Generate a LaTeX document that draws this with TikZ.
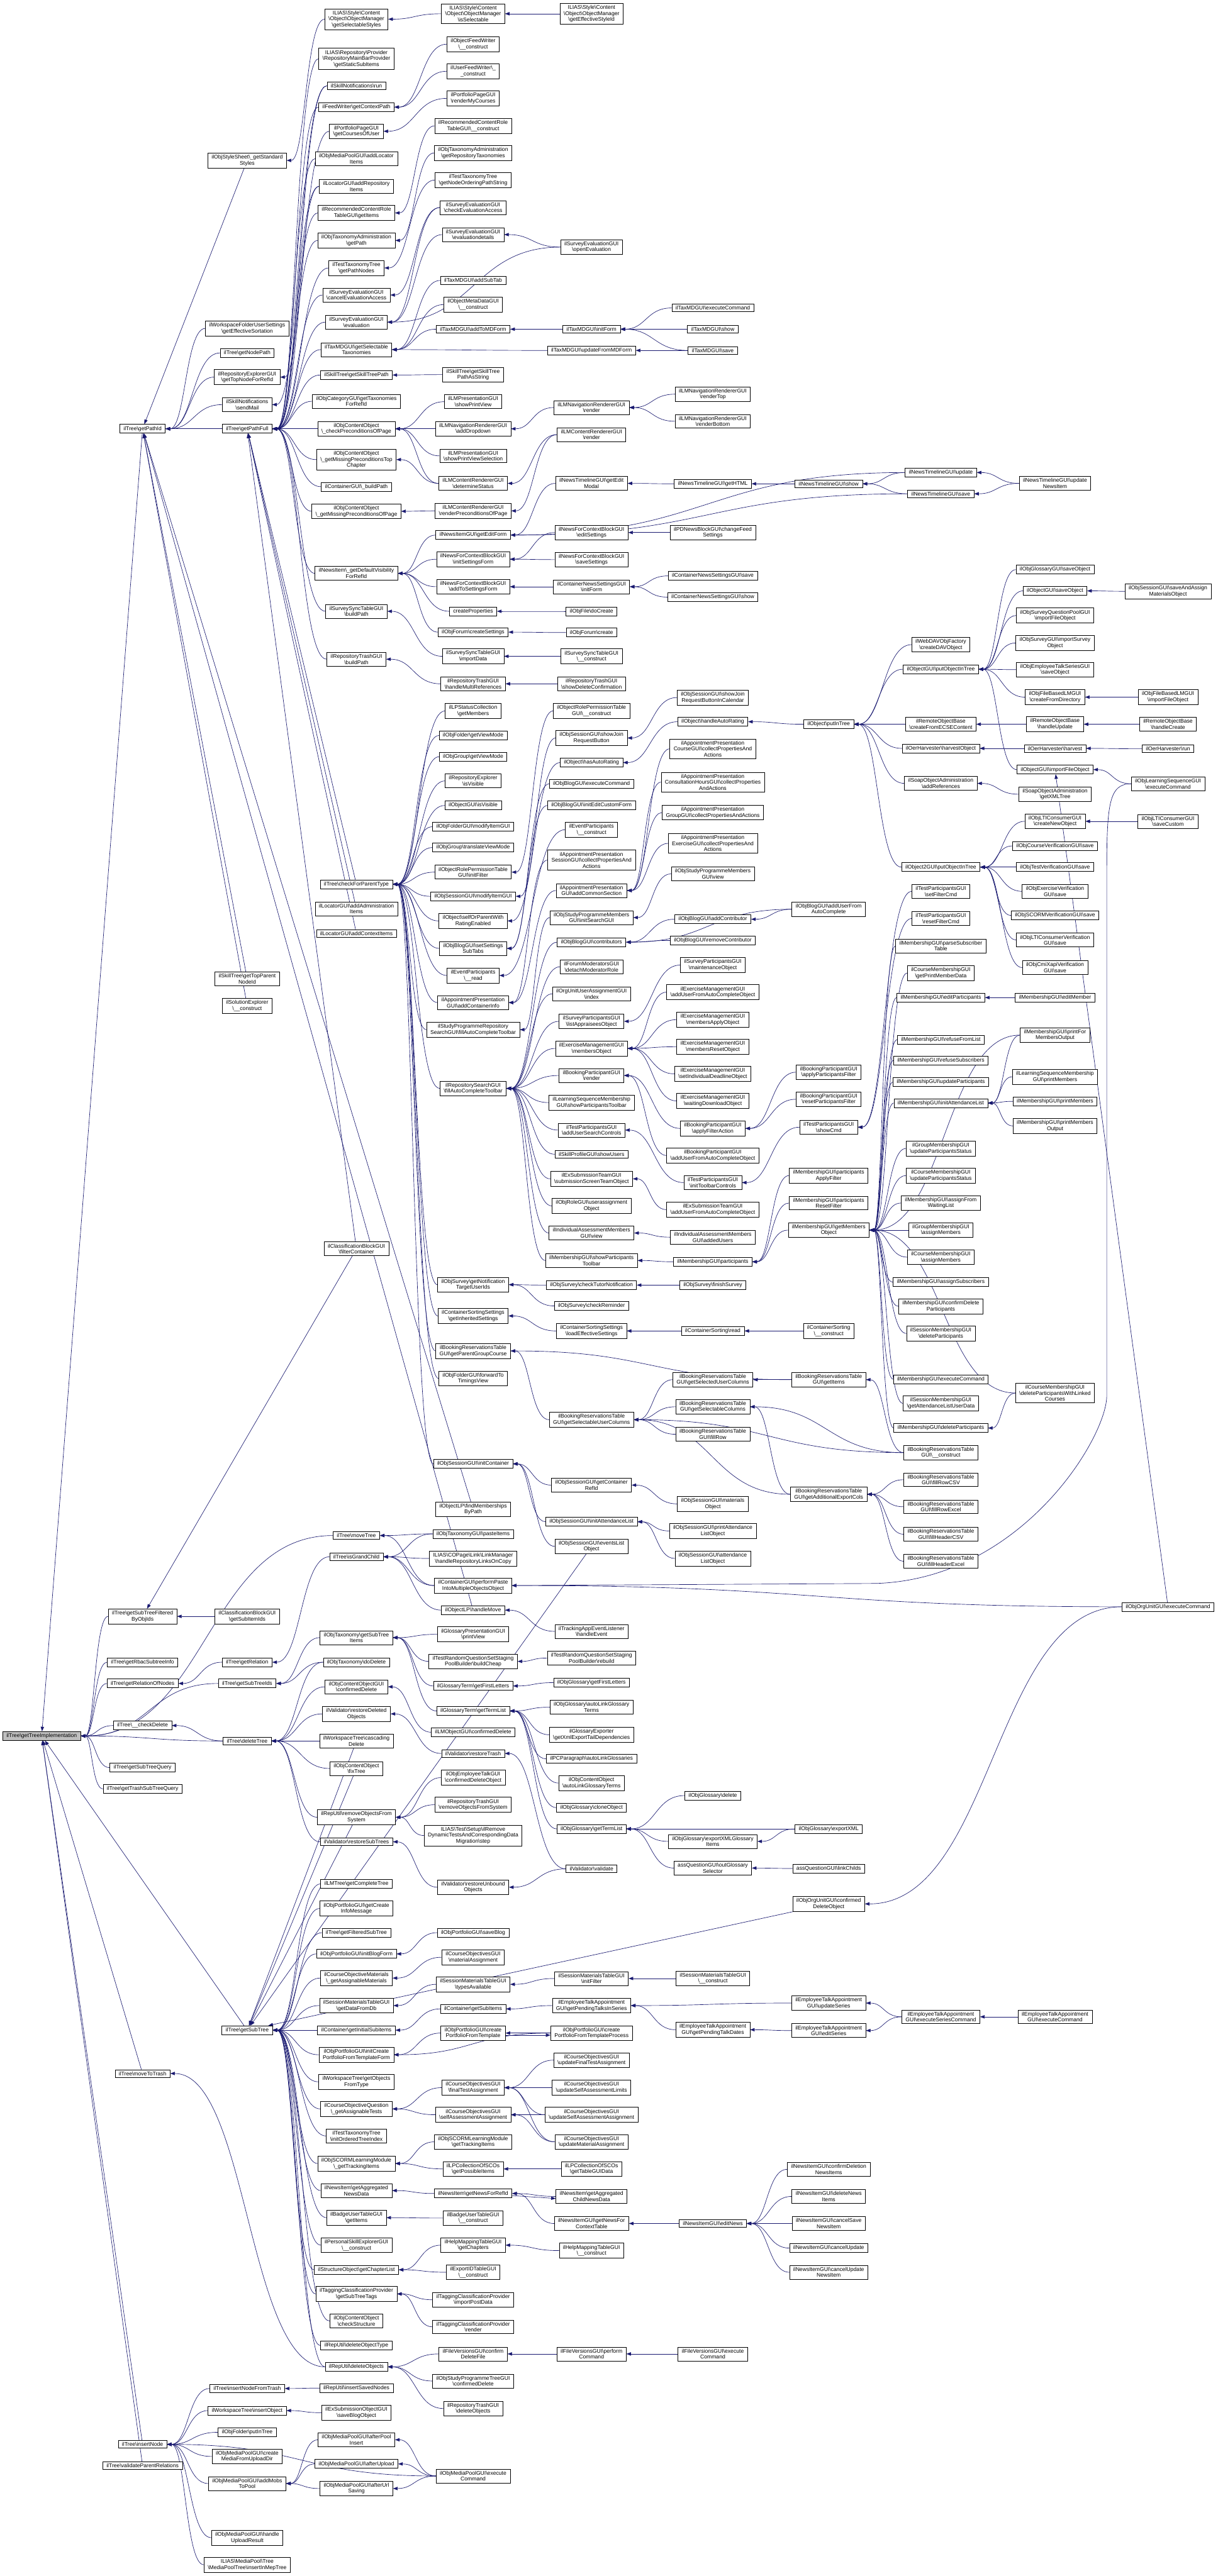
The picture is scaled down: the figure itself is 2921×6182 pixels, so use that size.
\documentclass[tikz,border=0pt]{standalone}
\usepackage{fontspec}
\setmainfont{Liberation Sans}
\usetikzlibrary{arrows.meta,backgrounds,calc}
\definecolor{edgeblue}{RGB}{25,25,112}
\definecolor{rootgray}{RGB}{191,191,191}
\newcommand{\bksl}{\textbackslash}

\begin{document}
\begin{tikzpicture}[x=1pt,y=-1pt,
    fn/.style={draw=black,line width=1pt,fill=white,align=center,inner xsep=9pt,inner ysep=4.5pt,font=\fontsize{13}{14.5}\selectfont},
    call/.style={draw=edgeblue,line width=1pt,-{Triangle[length=11pt,width=8pt]}}]
\useasboundingbox (0,0) rectangle (2921,6182);

% the function whose callers are shown
\node[fn,fill=rootgray] (root) at (100,4166) {ilTree\bksl getTreeImplementation};

% column 1
\foreach \n/\y/\t in {
  gpid/1029/{ilTree\bksl getPathId},
  gstfo/3879/{ilTree\bksl getSubTreeFiltered\\ByObjIds},
  grbac/3989/{ilTree\bksl getRbacSubtreeInfo},
  grelon/4040/{ilTree\bksl getRelationOfNodes},
  chkdel/4141/{ilTree\bksl\_\_checkDelete},
  gstq/4242/{ilTree\bksl getSubTreeQuery},
  gtstq/4293/{ilTree\bksl getTrashSubTreeQuery},
  mvtrash/4976/{ilTree\bksl moveToTrash},
  insnode/5866/{ilTree\bksl insertNode},
  valpar/5917/{ilTree\bksl validateParentRelations}}
  \node[fn] (\n) at (342,\y) {\t};

% column 2
\foreach \n/\y/\t in {
  stdstyles/385/{ilObjStyleSheet\bksl\_getStandard\\Styles},
  wfeff/788/{ilWorkspaceFolderUserSettings\\\bksl getEffectiveSortation},
  gnodepath/847/{ilTree\bksl getNodePath},
  reptop/905/{ilRepositoryExplorerGUI\\\bksl getTopNodeForRefId},
  sendmail/971/{ilSkillNotifications\\\bksl sendMail},
  gpfull/1029/{ilTree\bksl getPathFull},
  toppar/2349/{ilSkillTree\bksl getTopParent\\NodeId},
  solexp/2414/{ilSolutionExplorer\\\bksl\_\_construct},
  cbsub/3879/{ilClassificationBlockGUI\\\bksl getSubItemIds},
  grel/3989/{ilTree\bksl getRelation},
  gstids/4040/{ilTree\bksl getSubTreeIds},
  deltree/4178/{ilTree\bksl deleteTree},
  gsubtree/4872/{ilTree\bksl getSubTree},
  insfromtrash/5732/{ilTree\bksl insertNodeFromTrash},
  wtinsobj/5785/{ilWorkspaceTree\bksl insertObject},
  folderput/5837/{ilObjFolder\bksl putInTree},
  mpcreate/5895/{ilObjMediaPoolGUI\bksl create\\MediaFromUploadDir},
  mpaddmobs/5960/{ilObjMediaPoolGUI\bksl addMobs\\ToPool},
  mphandle/6090/{ilObjMediaPoolGUI\bksl handle\\UploadResult},
  mepins/6155/{ILIAS\bksl MediaPool\bksl Tree\\\bksl MediaPoolTree\bksl insertInMepTree}}
  \node[fn] (\n) at (593,\y) {\t};

% column 3
\foreach \n/\y/\t in {
  selstyles/46/{ILIAS\bksl Style\bksl Content\\\bksl Object\bksl ObjectManager\\\bksl getSelectableStyles},
  mainbar/141/{ILIAS\bksl Repository\bksl Provider\\\bksl RepositoryMainBarProvider\\\bksl getStaticSubItems},
  sknrun/206/{ilSkillNotifications\bksl run},
  feedctx/257/{ilFeedWriter\bksl getContextPath},
  ppcourses/315/{ilPortfolioPageGUI\\\bksl getCoursesOfUser},
  mploc/381/{ilObjMediaPoolGUI\bksl addLocator\\Items},
  locrep/447/{ilLocatorGUI\bksl addRepository\\Items},
  rcitems/511/{ilRecommendedContentRole\\TableGUI\bksl getItems},
  taxpath/577/{ilObjTaxonomyAdministration\\\bksl getPath},
  ttpathnodes/643/{ilTestTaxonomyTree\\\bksl getPathNodes},
  secancel/708/{ilSurveyEvaluationGUI\\\bksl cancelEvaluationAccess},
  seeval/773/{ilSurveyEvaluationGUI\\\bksl evaluation},
  mdseltax/839/{ilTaxMDGUI\bksl getSelectable\\Taxonomies},
  sktpath/900/{ilSkillTree\bksl getSkillTreePath},
  cattax/963/{ilObjCategoryGUI\bksl getTaxonomies\\ForRefId},
  cochkpre/1029/{ilObjContentObject\\\bksl\_checkPreconditionsOfPage},
  comisstop/1103/{ilObjContentObject\\\bksl\_getMissingPreconditionsTop\\Chapter},
  contbuild/1168/{ilContainerGUI\bksl\_buildPath},
  comisspage/1227/{ilObjContentObject\\\bksl\_getMissingPreconditionsOfPage},
  newsvis/1376/{ilNewsItem\bksl\_getDefaultVisibility\\ForRefId},
  ssbuild/1467/{ilSurveySyncTableGUI\\\bksl buildPath},
  rtbuild/1582/{ilRepositoryTrashGUI\\\bksl buildPath},
  cfpt/2122/{ilTree\bksl checkForParentType},
  locadmin/2181/{ilLocatorGUI\bksl addAdministration\\Items},
  locctx/2240/{ilLocatorGUI\bksl addContextItems},
  cbfilter/2997/{ilClassificationBlockGUI\\\bksl filterContainer},
  mvtree/3685/{ilTree\bksl moveTree},
  isgrand/3736/{ilTree\bksl isGrandChild},
  taxsub/3930/{ilObjTaxonomy\bksl getSubTree\\Items},
  taxdel/3989/{ilObjTaxonomy\bksl doDelete},
  cogconf/4048/{ilObjContentObjectGUI\\\bksl confirmedDelete},
  valrdel/4113/{ilValidator\bksl restoreDeleted\\Objects},
  wtcasc/4178/{ilWorkspaceTree\bksl cascading\\Delete},
  cofix/4244/{ilObjContentObject\\\bksl fixTree},
  rurem/4361/{ilRepUtil\bksl removeObjectsFrom\\System},
  valrsub/4420/{ilValidator\bksl restoreSubTrees},
  lmcomplete/4521/{ilLMTree\bksl getCompleteTree},
  pfinfo/4580/{ilObjPortfolioGUI\bksl getCreate\\InfoMessage},
  gfilt/4638/{ilTree\bksl getFilteredSubTree},
  pfblog/4689/{ilObjPortfolioGUI\bksl initBlogForm},
  comat/4747/{ilCourseObjectiveMaterials\\\bksl\_getAssignableMaterials},
  smdb/4813/{ilSessionMaterialsTableGUI\\\bksl getDataFromDb},
  contsub/4872/{ilContainer\bksl getInitialSubitems},
  pfcreateform/4931/{ilObjPortfolioGUI\bksl initCreate\\PortfolioFromTemplateForm},
  wtobjtype/4996/{ilWorkspaceTree\bksl getObjects\\FromType},
  coqtests/5061/{ilCourseObjectiveQuestion\\\bksl\_getAssignableTests},
  ttorder/5126/{ilTestTaxonomyTree\\\bksl initOrderedTreeIndex},
  scormtrack/5192/{ilObjSCORMLearningModule\\\bksl\_getTrackingItems},
  newsagg/5257/{ilNewsItem\bksl getAggregated\\NewsData},
  badgeitems/5322/{ilBadgeUserTableGUI\\\bksl getItems},
  psexp/5388/{ilPersonalSkillExplorerGUI\\\bksl\_\_construct},
  chaplist/5447/{ilStructureObject\bksl getChapterList},
  tagsub/5505/{ilTaggingClassificationProvider\\\bksl getSubTreeTags},
  cocheck/5570/{ilObjContentObject\\\bksl checkStructure},
  rutype/5629/{ilRepUtil\bksl deleteObjectType},
  rudel/5680/{ilRepUtil\bksl deleteObjects},
  rusaved/5731/{ilRepUtil\bksl insertSavedNodes},
  exblog/5790/{ilExSubmissionObjectGUI\\\bksl saveBlogObject},
  mppool/5855/{ilObjMediaPoolGUI\bksl afterPool\\Insert},
  mpupload/5913/{ilObjMediaPoolGUI\bksl afterUpload},
  mpurl/5972/{ilObjMediaPoolGUI\bksl afterUrl\\Saving}}
  \node[fn] (\n) at (855,\y) {\t};

% column 4
\foreach \n/\y/\t in {
  issel/33/{ILIAS\bksl Style\bksl Content\\\bksl Object\bksl ObjectManager\\\bksl isSelectable},
  ofwcon/106/{ilObjectFeedWriter\\\bksl\_\_construct},
  ufwcon/171/{ilUserFeedWriter\bksl\_\\\_construct},
  ppmy/236/{ilPortfolioPageGUI\\\bksl renderMyCourses},
  rccon/302/{ilRecommendedContentRole\\TableGUI\bksl\_\_construct},
  taxrepo/367/{ilObjTaxonomyAdministration\\\bksl getRepositoryTaxonomies},
  ttorderpath/432/{ilTestTaxonomyTree\\\bksl getNodeOrderingPathString},
  secheck/498/{ilSurveyEvaluationGUI\\\bksl checkEvaluationAccess},
  sedetails/563/{ilSurveyEvaluationGUI\\\bksl evaluationdetails},
  mdsubtab/673/{ilTaxMDGUI\bksl addSubTab},
  omdcon/731/{ilObjectMetaDataGUI\\\bksl\_\_construct},
  mdaddform/790/{ilTaxMDGUI\bksl addToMDForm},
  sktstring/899/{ilSkillTree\bksl getSkillTree\\PathAsString},
  lmprint/964/{ilLMPresentationGUI\\\bksl showPrintView},
  lmnavdd/1029/{ilLMNavigationRendererGUI\\\bksl addDropdown},
  lmprintsel/1094/{ilLMPresentationGUI\\\bksl showPrintViewSelection},
  lmcstatus/1160/{ilLMContentRendererGUI\\\bksl determineStatus},
  lmcprecond/1226/{ilLMContentRendererGUI\\\bksl renderPreconditionsOfPage},
  niedit/1284/{ilNewsItemGUI\bksl getEditForm},
  nfcinit/1342/{ilNewsForContextBlockGUI\\\bksl initSettingsForm},
  nfcadd/1408/{ilNewsForContextBlockGUI\\\bksl addToSettingsForm},
  createprop/1467/{createProperties},
  forumset/1517/{ilObjForum\bksl createSettings},
  ssimport/1575/{ilSurveySyncTableGUI\\\bksl importData},
  rtmulti/1641/{ilRepositoryTrashGUI\\\bksl handleMultiReferences},
  lpmembers/1706/{ilLPStatusCollection\\\bksl getMembers},
  foldview/1765/{ilObjFolder\bksl getViewMode},
  grpview/1816/{ilObjGroup\bksl getViewMode},
  repvis/1874/{ilRepositoryExplorer\\\bksl isVisible},
  objvis/1933/{ilObjectGUI\bksl isVisible},
  foldmod/1984/{ilObjFolderGUI\bksl modifyItemGUI},
  grptrans/2034/{ilObjGroup\bksl translateViewMode},
  orpfilter/2093/{ilObjectRolePermissionTable\\GUI\bksl initFilter},
  sessmod/2151/{ilObjSessionGUI\bksl modifyItemGUI},
  selfrating/2210/{ilObject\bksl selfOrParentWith\\RatingEnabled},
  blogsubtabs/2276/{ilObjBlogGUI\bksl setSettings\\SubTabs},
  evread/2341/{ilEventParticipants\\\bksl\_\_read},
  apcontinfo/2406/{ilAppointmentPresentation\\GUI\bksl addContainerInfo},
  spsearch/2471/{ilStudyProgrammeRepository\\SearchGUI\bksl fillAutoCompleteToolbar},
  repsearch/2612/{ilRepositorySearchGUI\\\bksl fillAutoCompleteToolbar},
  svnotify/3083/{ilObjSurvey\bksl getNotification\\TargetUserIds},
  csinherit/3158/{ilContainerSortingSettings\\\bksl getInheritedSettings},
  brparent/3242/{ilBookingReservationsTable\\GUI\bksl getParentGroupCourse},
  foldtiming/3308/{ilObjFolderGUI\bksl forwardTo\\TimingsView},
  sessinit/3513/{ilObjSessionGUI\bksl initContainer},
  lpfind/3622/{ilObjectLP\bksl findMemberships\\ByPath},
  taxpaste/3681/{ilObjTaxonomyGUI\bksl pasteItems},
  linkcopy/3740/{ILIAS\bksl COPage\bksl Link\bksl LinkManager\\\bksl handleRepositoryLinksOnCopy},
  contpaste/3805/{ilContainerGUI\bksl performPaste\\IntoMultipleObjectsObject},
  lpmove/3864/{ilObjectLP\bksl handleMove},
  glprint/3922/{ilGlossaryPresentationGUI\\\bksl printView},
  rqcheap/3987/{ilTestRandomQuestionSetStaging\\PoolBuilder\bksl buildCheap},
  gtletters/4046/{ilGlossaryTerm\bksl getFirstLetters},
  gtterms/4106/{ilGlossaryTerm\bksl getTermList},
  lmoconf/4157/{ilLMObjectGUI\bksl confirmedDelete},
  valtrash/4208/{ilValidator\bksl restoreTrash},
  etconf/4266/{ilObjEmployeeTalkGUI\\\bksl confirmedDeleteObject},
  rtremove/4331/{ilRepositoryTrashGUI\\\bksl removeObjectsFromSystem},
  dynstep/4405/{ILIAS\bksl Test\bksl Setup\bksl ilRemove\\DynamicTestsAndCorrespondingData\\Migration\bksl step},
  valunbound/4529/{ilValidator\bksl restoreUnbound\\Objects},
  pfsaveblog/4638/{ilObjPortfolioGUI\bksl saveBlog},
  comatassign/4697/{ilCourseObjectivesGUI\\\bksl materialAssignment},
  smtypes/4762/{ilSessionMaterialsTableGUI\\\bksl typesAvailable},
  contsubitems/4821/{ilContainer\bksl getSubItems},
  pfcreate/4879/{ilObjPortfolioGUI\bksl create\\PortfolioFromTemplate},
  cofinal/5010/{ilCourseObjectivesGUI\\\bksl finalTestAssignment},
  coself/5075/{ilCourseObjectivesGUI\\\bksl selfAssessmentAssignment},
  scormget/5140/{ilObjSCORMLearningModule\\\bksl getTrackingItems},
  lpcposs/5205/{ilLPCollectionOfSCOs\\\bksl getPossibleItems},
  newsref/5264/{ilNewsItem\bksl getNewsForRefId},
  badgecon/5323/{ilBadgeUserTableGUI\\\bksl\_\_construct},
  helpchap/5388/{ilHelpMappingTableGUI\\\bksl getChapters},
  exportid/5453/{ilExportIDTableGUI\\\bksl\_\_construct},
  tagimport/5519/{ilTaggingClassificationProvider\\\bksl importPostData},
  tagrender/5584/{ilTaggingClassificationProvider\\\bksl render},
  fvconfirm/5649/{ilFileVersionsGUI\bksl confirm\\DeleteFile},
  sptconf/5714/{ilObjStudyProgrammeTreeGUI\\\bksl confirmedDelete},
  rtdelobj/5780/{ilRepositoryTrashGUI\\\bksl deleteObjects},
  mpexec/5942/{ilObjMediaPoolGUI\bksl execute\\Command}}
  \node[fn] (\n) at (1135,\y) {\t};

% column 5
\foreach \n/\y/\t in {
  effstyle/33/{ILIAS\bksl Style\bksl Content\\\bksl Object\bksl ObjectManager\\\bksl getEffectiveStyleId},
  seopen/593/{ilSurveyEvaluationGUI\\\bksl openEvaluation},
  mdinit/790/{ilTaxMDGUI\bksl initForm},
  mdupdate/841/{ilTaxMDGUI\bksl updateFromMDForm},
  lmnavrender/978/{ilLMNavigationRendererGUI\\\bksl render},
  lmcrender/1043/{ilLMContentRendererGUI\\\bksl render},
  ntmodal/1160/{ilNewsTimelineGUI\bksl getEdit\\Modal},
  nfcedit/1278/{ilNewsForContextBlockGUI\\\bksl editSettings},
  nfcsave/1343/{ilNewsForContextBlockGUI\\\bksl saveSettings},
  cnsinit/1408/{ilContainerNewsSettingsGUI\\\bksl initForm},
  filecreate/1467/{ilObjFile\bksl doCreate},
  forumcreate/1518/{ilObjForum\bksl create},
  sscon/1575/{ilSurveySyncTableGUI\\\bksl\_\_construct},
  rtshowdel/1641/{ilRepositoryTrashGUI\\\bksl showDeleteConfirmation},
  orpcon/1706/{ilObjectRolePermissionTable\\GUI\bksl\_\_construct},
  sessjoin/1771/{ilObjSessionGUI\bksl showJoin\\RequestButton},
  hasrating/1830/{ilObject\bksl hasAutoRating},
  blogexec/1881/{ilObjBlogGUI\bksl executeCommand},
  blogcustom/1933/{ilObjBlogGUI\bksl initEditCustomForm},
  evcon/1991/{ilEventParticipants\\\bksl\_\_construct},
  apsess/2064/{ilAppointmentPresentation\\SessionGUI\bksl collectPropertiesAnd\\Actions},
  apcommon/2137/{ilAppointmentPresentation\\GUI\bksl addCommonSection},
  spminit/2202/{ilObjStudyProgrammeMembers\\GUI\bksl initSearchGUI},
  blogcontrib/2261/{ilObjBlogGUI\bksl contributors},
  fmdetach/2320/{ilForumModeratorsGUI\\\bksl detachModeratorRole},
  ouindex/2385/{ilOrgUnitUserAssignmentGUI\\\bksl index},
  spappr/2451/{ilSurveyParticipantsGUI\\\bksl listAppraiseesObject},
  exmembers/2516/{ilExerciseManagementGUI\\\bksl membersObject},
  bprender/2581/{ilBookingParticipantGUI\\\bksl render},
  lsshow/2646/{ilLearningSequenceMembership\\GUI\bksl showParticipantsToolbar},
  tpsearch/2712/{ilTestParticipantsGUI\\\bksl addUserSearchControls},
  skusers/2770/{ilSkillProfileGUI\bksl showUsers},
  stscreen/2829/{ilExSubmissionTeamGUI\\\bksl submissionScreenTeamObject},
  roleassign/2894/{ilObjRoleGUI\bksl userassignment\\Object},
  iaview/2959/{ilIndividualAssessmentMembers\\GUI\bksl view},
  msshow/3025/{ilMembershipGUI\bksl showParticipants\\Toolbar},
  svtutor/3084/{ilObjSurvey\bksl checkTutorNotification},
  svremind/3134/{ilObjSurvey\bksl checkReminder},
  csload/3194/{ilContainerSortingSettings\\\bksl loadEffectiveSettings},
  brselcols/3407/{ilBookingReservationsTable\\GUI\bksl getSelectableUserColumns},
  sessref/3564/{ilObjSessionGUI\bksl getContainer\\RefId},
  sessatt/3652/{ilObjSessionGUI\bksl initAttendanceList},
  sessevents/3711/{ilObjSessionGUI\bksl eventsList\\Object},
  trackevent/3915/{ilTrackingAppEventListener\\\bksl handleEvent},
  rqrebuild/3979/{ilTestRandomQuestionSetStaging\\PoolBuilder\bksl rebuild},
  glletters/4038/{ilObjGlossary\bksl getFirstLetters},
  glautolink/4097/{ilObjGlossary\bksl autoLinkGlossary\\Terms},
  glexporter/4163/{ilGlossaryExporter\\\bksl getXmlExportTailDependencies},
  pcautolink/4221/{ilPCParagraph\bksl autoLinkGlossaries},
  coautolink/4279/{ilObjContentObject\\\bksl autoLinkGlossaryTerms},
  glclone/4338/{ilObjGlossary\bksl cloneObject},
  glterms/4389/{ilObjGlossary\bksl getTermList},
  valvalidate/4485/{ilValidator\bksl validate},
  smfilter/4748/{ilSessionMaterialsTableGUI\\\bksl initFilter},
  etseries/4813/{ilEmployeeTalkAppointment\\GUI\bksl getPendingTalksInSeries},
  pfprocess/4879/{ilObjPortfolioGUI\bksl create\\PortfolioFromTemplateProcess},
  coupdfinal/4944/{ilCourseObjectivesGUI\\\bksl updateFinalTestAssignment},
  coupdlimits/5010/{ilCourseObjectivesGUI\\\bksl updateSelfAssessmentLimits},
  coupdself/5075/{ilCourseObjectivesGUI\\\bksl updateSelfAssessmentAssignment},
  coupdmat/5140/{ilCourseObjectivesGUI\\\bksl updateMaterialAssignment},
  lpctable/5205/{ilLPCollectionOfSCOs\\\bksl getTableGUIData},
  newschild/5271/{ilNewsItem\bksl getAggregated\\ChildNewsData},
  nictx/5336/{ilNewsItemGUI\bksl getNewsFor\\ContextTable},
  helpcon/5401/{ilHelpMappingTableGUI\\\bksl\_\_construct},
  fvperform/5649/{ilFileVersionsGUI\bksl perform\\Command}}
  \node[fn] (\n) at (1419,\y) {\t};

% column 6
\foreach \n/\y/\t in {
  mdexec/739/{ilTaxMDGUI\bksl executeCommand},
  mdshow/790/{ilTaxMDGUI\bksl show},
  mdsave/841/{ilTaxMDGUI\bksl save},
  lmnavtop/946/{ilLMNavigationRendererGUI\\\bksl renderTop},
  lmnavbottom/1011/{ilLMNavigationRendererGUI\\\bksl renderBottom},
  nthtml/1161/{ilNewsTimelineGUI\bksl getHTML},
  pdnews/1278/{ilPDNewsBlockGUI\bksl changeFeed\\Settings},
  cnssave/1382/{ilContainerNewsSettingsGUI\bksl save},
  cnsshow/1433/{ilContainerNewsSettingsGUI\bksl show},
  sessjoincal/1674/{ilObjSessionGUI\bksl showJoin\\RequestButtonInCalendar},
  handlerating/1732/{ilObject\bksl handleAutoRating},
  apcourse/1797/{ilAppointmentPresentation\\CourseGUI\bksl collectPropertiesAnd\\Actions},
  apconsult/1877/{ilAppointmentPresentation\\ConsultationHoursGUI\bksl collectProperties\\AndActions},
  apgroup/1950/{ilAppointmentPresentation\\GroupGUI\bksl collectPropertiesAndActions},
  apexercise/2024/{ilAppointmentPresentation\\ExerciseGUI\bksl collectPropertiesAnd\\Actions},
  spmview/2097/{ilObjStudyProgrammeMembers\\GUI\bksl view},
  blogadd/2206/{ilObjBlogGUI\bksl addContributor},
  blogremove/2257/{ilObjBlogGUI\bksl removeContributor},
  spmaint/2316/{ilSurveyParticipantsGUI\\\bksl maintenanceObject},
  exadduser/2381/{ilExerciseManagementGUI\\\bksl addUserFromAutoCompleteObject},
  exapply/2447/{ilExerciseManagementGUI\\\bksl membersApplyObject},
  exreset/2512/{ilExerciseManagementGUI\\\bksl membersResetObject},
  exdeadline/2577/{ilExerciseManagementGUI\\\bksl setIndividualDeadlineObject},
  exwaiting/2642/{ilExerciseManagementGUI\\\bksl waitingDownloadObject},
  bpfilter/2708/{ilBookingParticipantGUI\\\bksl applyFilterAction},
  bpadduser/2773/{ilBookingParticipantGUI\\\bksl addUserFromAutoCompleteObject},
  tptoolbar/2838/{ilTestParticipantsGUI\\\bksl initToolbarControls},
  stadduser/2903/{ilExSubmissionTeamGUI\\\bksl addUserFromAutoCompleteObject},
  iaadded/2969/{ilIndividualAssessmentMembers\\GUI\bksl addedUsers},
  msparts/3028/{ilMembershipGUI\bksl participants},
  svfinish/3084/{ilObjSurvey\bksl finishSurvey},
  csread/3194/{ilContainerSorting\bksl read},
  brselected/3311/{ilBookingReservationsTable\\GUI\bksl getSelectedUserColumns},
  brselectable/3376/{ilBookingReservationsTable\\GUI\bksl getSelectableColumns},
  brfillrow/3442/{ilBookingReservationsTable\\GUI\bksl fillRow},
  sessmat/3609/{ilObjSessionGUI\bksl materials\\Object},
  sessprint/3674/{ilObjSessionGUI\bksl printAttendance\\ListObject},
  sessattlist/3740/{ilObjSessionGUI\bksl attendance\\ListObject},
  gldelete/4309/{ilObjGlossary\bksl delete},
  glexportitems/4419/{ilObjGlossary\bksl exportXMLGlossary\\Items},
  aqselector/4483/{assQuestionGUI\bksl outGlossary\\Selector},
  smcon/4748/{ilSessionMaterialsTableGUI\\\bksl\_\_construct},
  etdates/4871/{ilEmployeeTalkAppointment\\GUI\bksl getPendingTalkDates},
  niedit2/5336/{ilNewsItemGUI\bksl editNews},
  fvexec/5649/{ilFileVersionsGUI\bksl execute\\Command}}
  \node[fn] (\n) at (1710,\y) {\t};

% column 7
\foreach \n/\y/\t in {
  ntshow/1161/{ilNewsTimelineGUI\bksl show},
  objput/1738/{ilObject\bksl putInTree},
  blogauto/2182/{ilObjBlogGUI\bksl addUserFrom\\AutoComplete},
  bpapply/2573/{ilBookingParticipantGUI\\\bksl applyParticipantsFilter},
  bpreset/2638/{ilBookingParticipantGUI\\\bksl resetParticipantsFilter},
  tpshow/2705/{ilTestParticipantsGUI\\\bksl showCmd},
  msapply/2821/{ilMembershipGUI\bksl participants\\ApplyFilter},
  msreset/2887/{ilMembershipGUI\bksl participants\\ResetFilter},
  msgetmembers/2952/{ilMembershipGUI\bksl getMembers\\Object},
  cscon/3194/{ilContainerSorting\\\bksl\_\_construct},
  britems/3311/{ilBookingReservationsTable\\GUI\bksl getItems},
  brexport/3586/{ilBookingReservationsTable\\GUI\bksl getAdditionalExportCols},
  glexport/4389/{ilObjGlossary\bksl exportXML},
  aqlink/4484/{assQuestionGUI\bksl linkChilds},
  ouconfdel/4569/{ilObjOrgUnitGUI\bksl confirmed\\DeleteObject},
  etupdseries/4807/{ilEmployeeTalkAppointment\\GUI\bksl updateSeries},
  eteditseries/4873/{ilEmployeeTalkAppointment\\GUI\bksl editSeries},
  niconfirm/5206/{ilNewsItemGUI\bksl confirmDeletion\\NewsItems},
  nidelete/5271/{ilNewsItemGUI\bksl deleteNews\\Items},
  nicancelsave/5336/{ilNewsItemGUI\bksl cancelSave\\NewsItem},
  nicancelupd/5395/{ilNewsItemGUI\bksl cancelUpdate},
  nicancelupdni/5453/{ilNewsItemGUI\bksl cancelUpdate\\NewsItem}}
  \node[fn] (\n) at (1988,\y) {\t};

% column 8
\foreach \n/\y/\t in {
  ntupdate/1134/{ilNewsTimelineGUI\bksl update},
  ntsave/1185/{ilNewsTimelineGUI\bksl save},
  davobj/1547/{ilWebDAVObjFactory\\\bksl createDAVObject},
  ogput/1606/{ilObjectGUI\bksl putObjectInTree},
  rmecs/1738/{ilRemoteObjectBase\\\bksl createFromECSEContent},
  oerobj/1796/{ilOerHarvester\bksl harvestObject},
  soapref/1880/{ilSoapObjectAdministration\\\bksl addReferences},
  o2put/2081/{ilObject2GUI\bksl putObjectInTree},
  tpsetfilter/2139/{ilTestParticipantsGUI\\\bksl setFilterCmd},
  tpresetfilter/2204/{ilTestParticipantsGUI\\\bksl resetFilterCmd},
  msparse/2270/{ilMembershipGUI\bksl parseSubscriber\\Table},
  cmprint/2335/{ilCourseMembershipGUI\\\bksl getPrintMemberData},
  msedit/2394/{ilMembershipGUI\bksl editParticipants},
  msrefuselist/2495/{ilMembershipGUI\bksl refuseFromList},
  msrefusesub/2545/{ilMembershipGUI\bksl refuseSubscribers},
  msupdate/2597/{ilMembershipGUI\bksl updateParticipants},
  msatt/2647/{ilMembershipGUI\bksl initAttendanceList},
  gmstatus/2756/{ilGroupMembershipGUI\\\bksl updateParticipantsStatus},
  cmstatus/2821/{ilCourseMembershipGUI\\\bksl updateParticipantsStatus},
  mswaiting/2887/{ilMembershipGUI\bksl assignFrom\\WaitingList},
  gmassign/2952/{ilGroupMembershipGUI\\\bksl assignMembers},
  cmassign/3017/{ilCourseMembershipGUI\\\bksl assignMembers},
  mssubs/3077/{ilMembershipGUI\bksl assignSubscribers},
  msconfdel/3135/{ilMembershipGUI\bksl confirmDelete\\Participants},
  smsdel/3200/{ilSessionMembershipGUI\\\bksl deleteParticipants},
  msexec/3310/{ilMembershipGUI\bksl executeCommand},
  smsatt/3368/{ilSessionMembershipGUI\\\bksl getAttendanceListUserData},
  msdel/3427/{ilMembershipGUI\bksl deleteParticipants},
  brcon/3486/{ilBookingReservationsTable\\GUI\bksl\_\_construct},
  brcsv/3551/{ilBookingReservationsTable\\GUI\bksl fillRowCSV},
  brexcel/3616/{ilBookingReservationsTable\\GUI\bksl fillRowExcel},
  brhcsv/3682/{ilBookingReservationsTable\\GUI\bksl fillHeaderCSV},
  brhexcel/3747/{ilBookingReservationsTable\\GUI\bksl fillHeaderExcel},
  etexecseries/4840/{ilEmployeeTalkAppointment\\GUI\bksl executeSeriesCommand}}
  \node[fn] (\n) at (2257,\y) {\t};

% column 9
\foreach \n/\y/\t in {
  ntupdni/1160/{ilNewsTimelineGUI\bksl update\\NewsItem},
  glgsave/1367/{ilObjGlossaryGUI\bksl saveObject},
  ogsave/1418/{ilObjectGUI\bksl saveObject},
  sqpimport/1477/{ilObjSurveyQuestionPoolGUI\\\bksl importFileObject},
  svimport/1543/{ilObjSurveyGUI\bksl importSurvey\\Object},
  etssave/1607/{ilObjEmployeeTalkSeriesGUI\\\bksl saveObject},
  fblmcreate/1673/{ilObjFileBasedLMGUI\\\bksl createFromDirectory},
  rmupdate/1738/{ilRemoteObjectBase\\\bksl handleUpdate},
  oerharvest/1796/{ilOerHarvester\bksl harvest},
  ogimport/1847/{ilObjectGUI\bksl importFileObject},
  soapxml/1906/{ilSoapObjectAdministration\\\bksl getXMLTree},
  lticreate/1971/{ilObjLTIConsumerGUI\\\bksl createNewObject},
  crsver/2030/{ilObjCourseVerificationGUI\bksl save},
  tstver/2081/{ilObjTestVerificationGUI\bksl save},
  exver/2139/{ilObjExerciseVerification\\GUI\bksl save},
  scormver/2197/{ilObjSCORMVerificationGUI\bksl save},
  ltiver/2256/{ilObjLTIConsumerVerification\\GUI\bksl save},
  cmixver/2322/{ilObjCmiXapiVerification\\GUI\bksl save},
  mseditmember/2394/{ilMembershipGUI\bksl editMember},
  msprintfor/2484/{ilMembershipGUI\bksl printFor\\MembersOutput},
  lsprint/2584/{ilLearningSequenceMembership\\GUI\bksl printMembers},
  msprint/2643/{ilMembershipGUI\bksl printMembers},
  msprintout/2702/{ilMembershipGUI\bksl printMembers\\Output},
  cmdellinked/3343/{ilCourseMembershipGUI\\\bksl deleteParticipantsWithLinked\\Courses},
  etexec/4840/{ilEmployeeTalkAppointment\\GUI\bksl executeCommand}}
  \node[fn] (\n) at (2531,\y) {\t};

% column 10
\foreach \n/\y/\t in {
  sessassign/1419/{ilObjSessionGUI\bksl saveAndAssign\\MaterialsObject},
  fblmimport/1673/{ilObjFileBasedLMGUI\\\bksl importFileObject},
  rmcreate/1738/{ilRemoteObjectBase\\\bksl handleCreate},
  oerrun/1797/{ilOerHarvester\bksl run},
  lsexec/1881/{ilObjLearningSequenceGUI\\\bksl executeCommand},
  ltisave/1971/{ilObjLTIConsumerGUI\\\bksl saveCustom},
  ouexec/3856/{ilObjOrgUnitGUI\bksl executeCommand}}
  \node[fn] (\n) at (2802,\y) {\t};

\begin{pgfonlayer}{background}
  \fill[white] (0,0) rectangle (2921,6182);

  % calls, leaving the caller to the left and entering the callee from the right
  \foreach \a/\b in {gstfo/root, grbac/root, grelon/root, chkdel/root, gstq/root, gtstq/root,
      gstids/root, deltree/root, deltree/chkdel, mvtree/root, wfeff/gpid, gnodepath/gpid,
      reptop/gpid, sendmail/gpid, gpfull/gpid, cbsub/gstfo, grel/grelon, insfromtrash/insnode,
      wtinsobj/insnode, folderput/insnode, mpcreate/insnode, mpaddmobs/insnode, mphandle/insnode,
      mepins/insnode, rudel/mvtrash, mpexec/insnode,
      % into column 2
      selstyles/stdstyles, mainbar/gpfull, sknrun/gpfull, sknrun/sendmail,
      feedctx/gpfull, ppcourses/gpfull, mploc/gpfull, locrep/gpfull, locrep/reptop, rcitems/gpfull,
      taxpath/gpfull, ttpathnodes/gpfull, secancel/gpfull, seeval/gpfull, mdseltax/gpfull,
      sktpath/gpfull, cattax/gpfull, cochkpre/gpfull, comisstop/gpfull, contbuild/gpfull,
      comisspage/gpfull, newsvis/gpfull, ssbuild/gpfull, rtbuild/gpfull, isgrand/grel,
      taxsub/gstids, taxdel/gstids, taxdel/deltree, cogconf/deltree, valrdel/deltree,
      wtcasc/deltree, cofix/deltree, rurem/deltree, valrsub/deltree, lmcomplete/gsubtree,
      pfinfo/gsubtree, gfilt/gsubtree, pfblog/gsubtree, comat/gsubtree, smdb/gsubtree,
      contsub/gsubtree, pfcreateform/gsubtree, wtobjtype/gsubtree, coqtests/gsubtree,
      ttorder/gsubtree, scormtrack/gsubtree, newsagg/gsubtree, badgeitems/gsubtree,
      psexp/gsubtree, chaplist/gsubtree, tagsub/gsubtree, cocheck/gsubtree, rutype/gsubtree,
      rudel/gsubtree, rusaved/insfromtrash, exblog/wtinsobj, mppool/mpaddmobs,
      mpupload/mpaddmobs, mpurl/mpaddmobs}
  {
    \coordinate (mid) at ($(\a.west)!0.5!(\b.east)$);
    \draw[call] (\a.west) .. controls (mid |- \a.west) and (mid |- \b.east) .. (\b.east);
  }

  % into column 3
  \foreach \a/\b in {issel/selstyles, ofwcon/feedctx, ufwcon/feedctx, ppmy/ppcourses,
      rccon/rcitems, taxrepo/taxpath, ttorderpath/ttpathnodes, secheck/secancel, secheck/seeval,
      sedetails/seeval, seopen/seeval, mdsubtab/mdseltax, omdcon/mdseltax, mdaddform/mdseltax,
      mdupdate/mdseltax, sktstring/sktpath, lmprint/cochkpre, lmnavdd/cochkpre,
      lmprintsel/cochkpre, lmcstatus/cochkpre, lmcstatus/comisstop, lmcprecond/comisspage,
      niedit/newsvis, nfcinit/newsvis, nfcadd/newsvis, createprop/newsvis, forumset/newsvis,
      ssimport/ssbuild, rtmulti/rtbuild, lpmembers/cfpt, foldview/cfpt, grpview/cfpt,
      repvis/cfpt, objvis/cfpt, foldmod/cfpt, grptrans/cfpt, orpfilter/cfpt, sessmod/cfpt,
      selfrating/cfpt, blogsubtabs/cfpt, evread/cfpt, apcontinfo/cfpt, spsearch/cfpt,
      repsearch/cfpt, svnotify/cfpt, csinherit/cfpt, brparent/cfpt, foldtiming/cfpt,
      sessinit/cfpt, taxpaste/mvtree, taxpaste/isgrand, linkcopy/isgrand, contpaste/mvtree,
      contpaste/isgrand, lpmove/isgrand, glprint/taxsub, rqcheap/taxsub, gtletters/taxsub,
      gtterms/taxsub, lmoconf/cogconf, valtrash/valrdel, etconf/rurem, rtremove/rurem,
      dynstep/rurem, valunbound/valrsub, pfsaveblog/pfblog, comatassign/comat, smtypes/smdb,
      contsubitems/contsub, pfcreate/pfcreateform, pfprocess/pfcreateform, cofinal/coqtests,
      coself/coqtests, scormget/scormtrack, lpcposs/scormtrack, newsref/newsagg,
      badgecon/badgeitems, helpchap/chaplist, exportid/chaplist, tagimport/tagsub,
      tagrender/tagsub, fvconfirm/rudel, sptconf/rudel, rtdelobj/rudel, mpexec/mppool,
      mpexec/mpupload, mpexec/mpurl}
  {
    \coordinate (mid) at ($(\a.west)!0.5!(\b.east)$);
    \draw[call] (\a.west) .. controls (mid |- \a.west) and (mid |- \b.east) .. (\b.east);
  }

  % into column 4
  \foreach \a/\b in {effstyle/issel, seopen/sedetails, mdinit/mdaddform, lmnavrender/lmnavdd,
      lmcrender/lmcstatus, lmcrender/lmcprecond, ntmodal/niedit, ntupdate/niedit, ntsave/niedit,
      nfcedit/nfcinit, nfcsave/nfcinit, cnsinit/nfcadd, filecreate/createprop,
      forumcreate/forumset, sscon/ssimport, rtshowdel/rtmulti, orpcon/orpfilter,
      sessjoin/sessmod, hasrating/selfrating, blogexec/blogsubtabs, blogcustom/blogsubtabs,
      evcon/evread, apsess/apcontinfo, apcommon/apcontinfo, spminit/spsearch,
      blogcontrib/repsearch, fmdetach/repsearch, ouindex/repsearch, spappr/repsearch,
      exmembers/repsearch, bprender/repsearch, lsshow/repsearch, tpsearch/repsearch,
      skusers/repsearch, stscreen/repsearch, roleassign/repsearch, iaview/repsearch,
      msshow/repsearch, svtutor/svnotify, svremind/svnotify, csload/csinherit,
      brselcols/brparent, britems/brparent, sessref/sessinit, sessatt/sessinit,
      sessevents/sessinit, trackevent/lpmove, rqrebuild/rqcheap, glletters/gtletters,
      glautolink/gtterms, glexporter/gtterms, pcautolink/gtterms, coautolink/gtterms,
      glclone/gtterms, glterms/gtterms, valvalidate/valunbound, valvalidate/valtrash,
      smfilter/smtypes, etseries/contsubitems, pfprocess/pfcreate, coupdfinal/cofinal,
      coupdlimits/cofinal, coupdself/cofinal, coupdself/coself, coupdmat/cofinal,
      coupdmat/coself, lpctable/lpcposs, newschild/newsref, nictx/newsref, helpcon/helpchap,
      fvperform/fvconfirm, ouexec/contpaste}
  {
    \coordinate (mid) at ($(\a.west)!0.5!(\b.east)$);
    \draw[call] (\a.west) .. controls (mid |- \a.west) and (mid |- \b.east) .. (\b.east);
  }

  % into columns 5 and 6
  \foreach \a/\b in {mdexec/mdinit, mdshow/mdinit, mdsave/mdinit, mdsave/mdupdate,
      lmnavtop/lmnavrender, lmnavbottom/lmnavrender, nthtml/ntmodal, pdnews/nfcedit,
      cnssave/cnsinit, cnsshow/cnsinit, sessjoincal/sessjoin, handlerating/hasrating,
      apcourse/apcommon, apconsult/apcommon, apgroup/apcommon, apexercise/apcommon,
      spmview/spminit, blogadd/blogcontrib, blogremove/blogcontrib, blogauto/blogcontrib,
      spmaint/spappr, exadduser/exmembers, exapply/exmembers, exreset/exmembers,
      exdeadline/exmembers, exwaiting/exmembers, bpfilter/bprender, bpadduser/bprender,
      tptoolbar/tpsearch, stadduser/stscreen, iaadded/iaview, msparts/msshow, svfinish/svtutor,
      csread/csload, brselected/brselcols, brselectable/brselcols, brfillrow/brselcols,
      brexport/brselcols, brcon/brselcols, sessmat/sessref, sessprint/sessatt,
      sessattlist/sessatt, gldelete/glterms, glexportitems/glterms, aqselector/glterms,
      glexport/glterms, smcon/smfilter, etdates/etseries, etupdseries/etseries,
      niedit2/nictx, fvexec/fvperform,
      ntshow/nthtml, objput/handlerating, blogauto/blogadd, bpapply/bpfilter,
      bpreset/bpfilter, tpshow/tptoolbar, msapply/msparts, msreset/msparts,
      msgetmembers/msparts, cscon/csread, britems/brselected, brexport/brselectable,
      brcon/brselectable, glexport/glexportitems, aqlink/aqselector, eteditseries/etdates,
      niconfirm/niedit2, nidelete/niedit2, nicancelsave/niedit2, nicancelupd/niedit2,
      nicancelupdni/niedit2}
  {
    \coordinate (mid) at ($(\a.west)!0.5!(\b.east)$);
    \draw[call] (\a.west) .. controls (mid |- \a.west) and (mid |- \b.east) .. (\b.east);
  }

  % into columns 7 to 9
  \foreach \a/\b in {ntupdate/ntshow, ntsave/ntshow, davobj/objput, ogput/objput, rmecs/objput,
      oerobj/objput, soapref/objput, o2put/objput, tpsetfilter/tpshow, tpresetfilter/tpshow,
      msparse/msgetmembers, cmprint/msgetmembers, msedit/msgetmembers,
      msrefuselist/msgetmembers, msrefusesub/msgetmembers, msupdate/msgetmembers,
      msatt/msgetmembers, gmstatus/msgetmembers, cmstatus/msgetmembers,
      mswaiting/msgetmembers, gmassign/msgetmembers, cmassign/msgetmembers,
      mssubs/msgetmembers, msconfdel/msgetmembers, smsdel/msgetmembers, msexec/msgetmembers,
      smsatt/msgetmembers, msdel/msgetmembers, cmdellinked/msgetmembers,
      msprintfor/msgetmembers, brcon/britems, brcsv/brexport, brexcel/brexport,
      brhcsv/brexport, brhexcel/brexport, etexecseries/etupdseries, etexecseries/eteditseries,
      ouexec/ouconfdel,
      ntupdni/ntupdate, ntupdni/ntsave, glgsave/ogput, ogsave/ogput,
      sqpimport/ogput, svimport/ogput, etssave/ogput, fblmcreate/ogput, ogimport/ogput,
      rmupdate/rmecs, oerharvest/oerobj, soapxml/soapref, lticreate/o2put, crsver/o2put,
      tstver/o2put, exver/o2put, scormver/o2put, ltiver/o2put, cmixver/o2put,
      mseditmember/msedit, msprintfor/msatt, lsprint/msatt, msprint/msatt, msprintout/msatt,
      cmdellinked/msdel, etexec/etexecseries, sessassign/ogsave, fblmimport/fblmcreate,
      rmcreate/rmupdate, oerrun/oerharvest, lsexec/ogimport, ltisave/lticreate}
  {
    \coordinate (mid) at ($(\a.west)!0.5!(\b.east)$);
    \draw[call] (\a.west) .. controls (mid |- \a.west) and (mid |- \b.east) .. (\b.east);
  }

  % long, almost straight calls
  \foreach \a/\b in {gpid/root, mvtrash/root, insnode/root, valpar/root, gsubtree/root,
      stdstyles/gpid, toppar/gpid, solexp/gpid, cfpt/gpfull, locadmin/gpfull, locctx/gpfull,
      cbfilter/gpfull, cbfilter/gstfo, lpfind/gpid, lpmove/gpid, wtcasc/gsubtree,
      cofix/gsubtree, rurem/gsubtree, sessevents/gsubtree, ouconfdel/gsubtree, ouexec/ogimport}
    \draw[call] (\a) -- (\b);

  % the learning sequence call runs down the right side
  \draw[call] (lsexec.west) .. controls (2660,1881) and (2655,1930) .. (2655,2100)
    -- (2655,3350) .. controls (2655,3450) and (2450,3790) .. (2100,3800) -- (contpaste.east);

  % calls that run to the right
  \draw[call] ([yshift=-5pt]pfcreate.east) -- ([yshift=-5pt]pfprocess.west);
  \draw[call] ([yshift=-5pt]newsref.east) -- ([yshift=-5pt]newschild.west);
\end{pgfonlayer}
\end{tikzpicture}
\end{document}
